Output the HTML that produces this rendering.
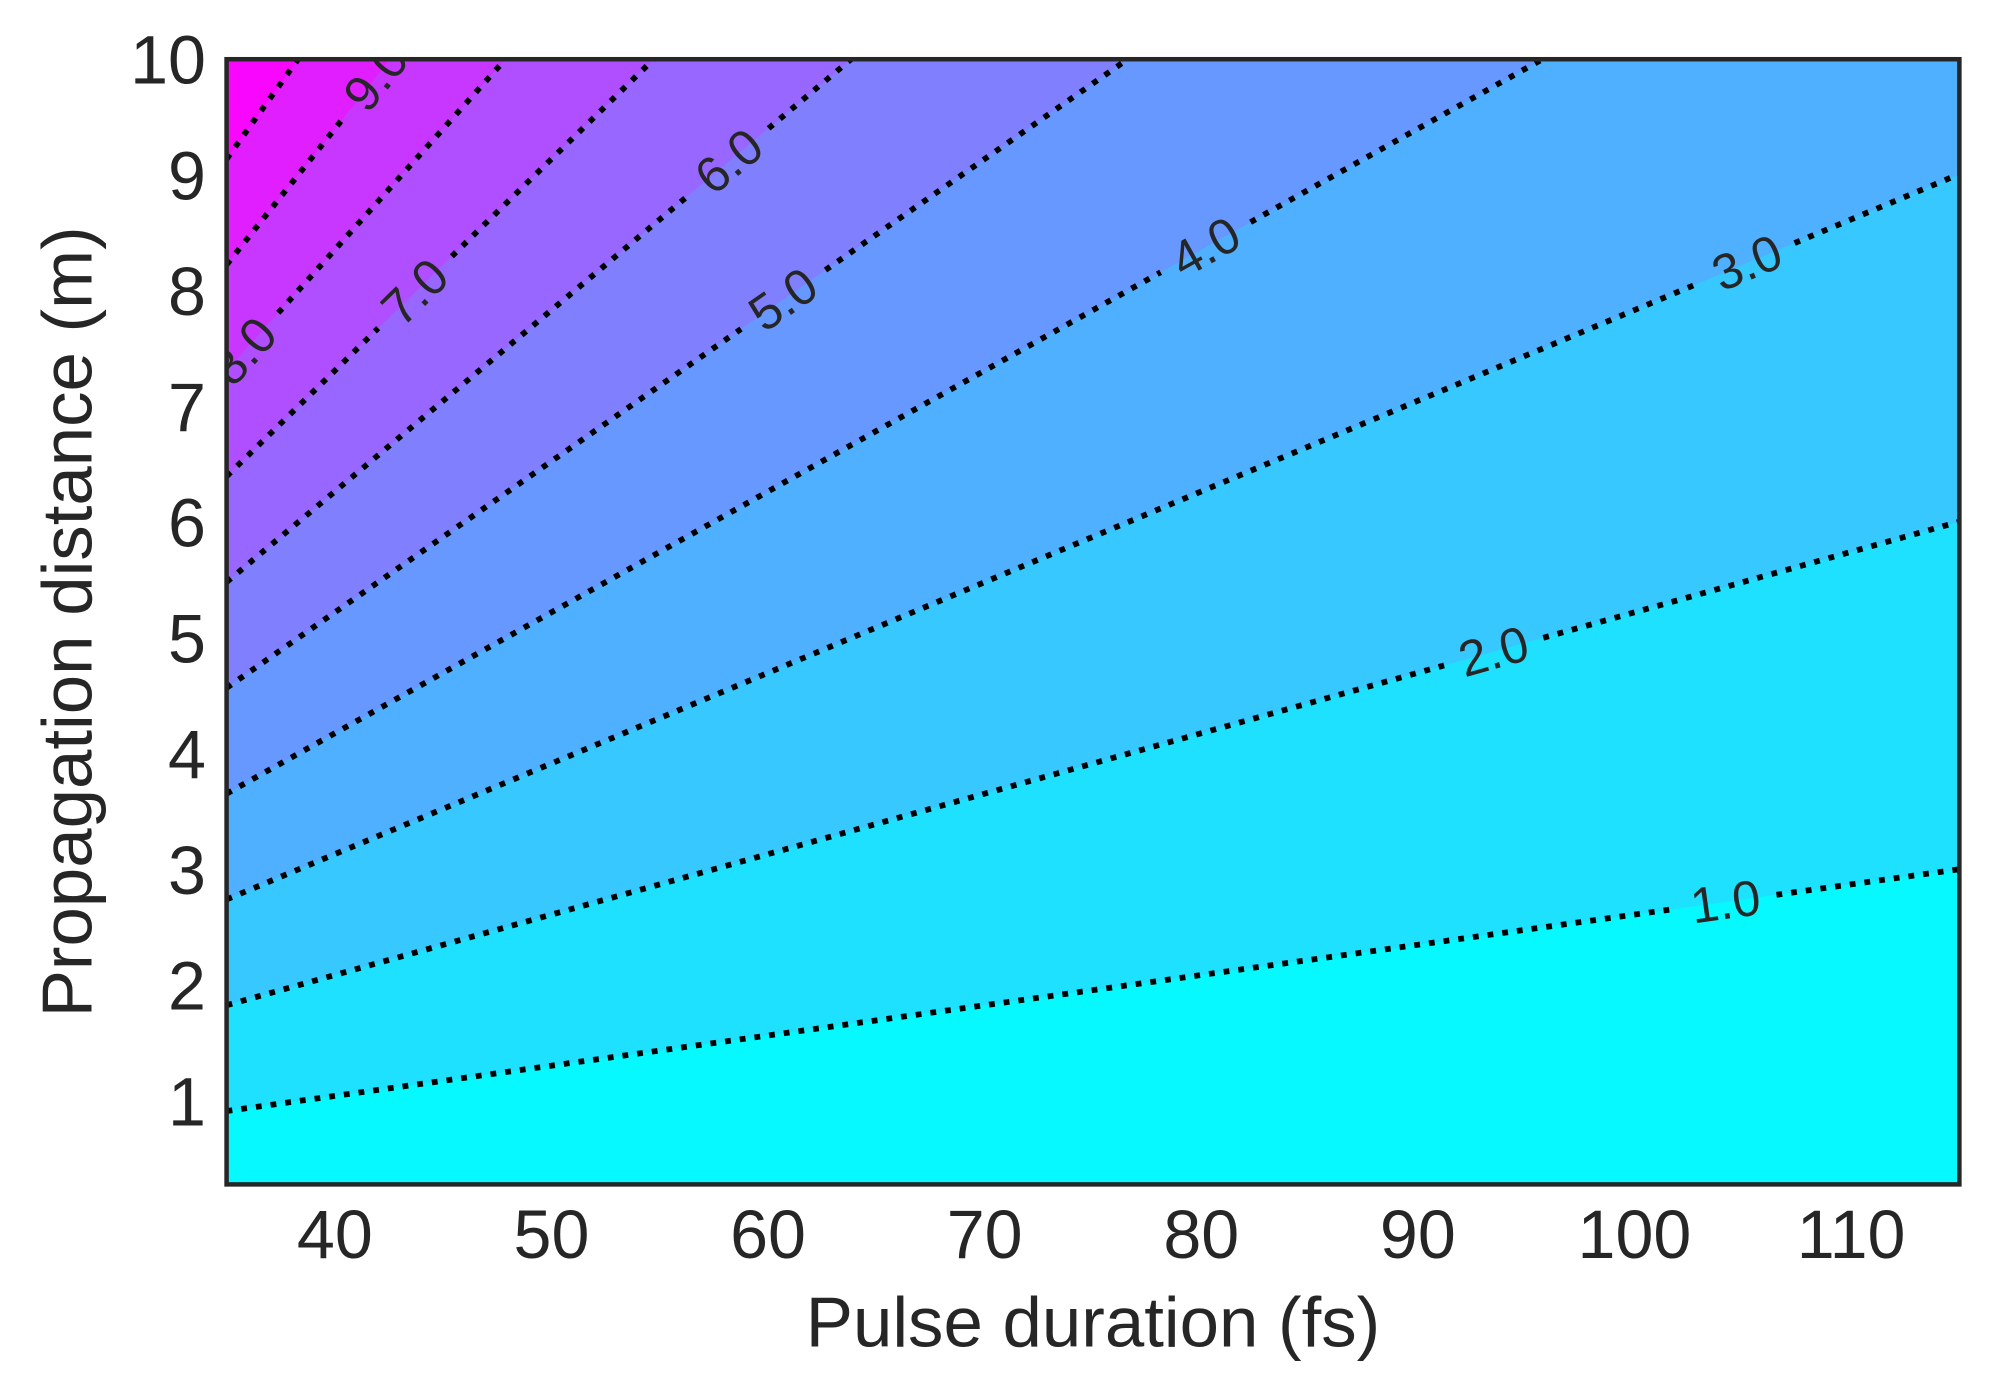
<!DOCTYPE html>
<html><head><meta charset="utf-8"><style>
html,body{margin:0;padding:0;background:#fff;}
svg{display:block;}
text{font-family:"Liberation Sans",sans-serif;fill:#262626;}
</style></head><body>
<svg id="chart" width="1998" height="1373" viewBox="0 0 1552 1066.5" preserveAspectRatio="none" xmlns="http://www.w3.org/2000/svg">
<defs><clipPath id="plotclip"><rect x="176" y="46" width="1346" height="874"/></clipPath></defs>
<g id="bands" clip-path="url(#plotclip)"></g>
<g id="lines" clip-path="url(#plotclip)"></g>
<g id="labels" clip-path="url(#plotclip)"></g>
<rect x="176" y="46" width="1346" height="874" fill="none" stroke="#262626" stroke-width="3.5"/>
<g id="xticks"></g>
<g id="yticks"></g>
<text x="849" y="1046" font-size="55" text-anchor="middle">Pulse duration (fs)</text>
<text transform="translate(71,483) rotate(-90)" font-size="55" text-anchor="middle">Propagation distance (m)</text>
</svg>
<script>
const levels=[1,2,3,4,5,6,7,8,9,10];
const bandLevels=[0,1,2,3,4,5,6,7,8,9,10];
const labelX=[104.2,93.5,105.2,80.2,60.7,58.2,43.7,35.8,41.9,0];
const labelText=["1.0","2.0","3.0","4.0","5.0","6.0","7.0","8.0","9.0",""];
const xTicks=[40,50,60,70,80,90,100,110];
const yTicks=[1,2,3,4,5,6,7,8,9,10];
const C=38.3;
const X0=35,X1=115,Y0=0.28,Y1=10;
const PX0=176,PX1=1522,PY0=920,PY1=46;
function sx(x){return PX0+(x-X0)/(X1-X0)*(PX1-PX0);}
function sy(y){return PY0-(y-Y0)/(Y1-Y0)*(PY0-PY1);}
function lineY(k,x){return k*x/C;}
const NS="http://www.w3.org/2000/svg";
function mk(t,a){const e=document.createElementNS(NS,t);for(const k in a)e.setAttribute(k,a[k]);return e;}
function cool(t){const r=Math.round(255*t),g=Math.round(255*(1-t));return `rgb(${r},${g},255)`;}
const bands=document.getElementById('bands');
bandLevels.forEach((k,i)=>{
  const t=(i+0.25)/(bandLevels.length-0.5);
  const pts=[[sx(X0),sy(lineY(k,X0))],[sx(X1),sy(lineY(k,X1))],[sx(X1)+50,sy(Y1)-50],[sx(X0)-50,sy(Y1)-50]];
  const p=mk('polygon',{points:pts.map(q=>q.join(',')).join(' '),fill:cool(Math.min(1,t))});
  
  
  bands.appendChild(p);
});
const lines=document.getElementById('lines');
const labs=document.getElementById('labels');
levels.forEach((k,i)=>{
  const ax=sx(X0),ay=sy(lineY(k,X0)),bx=sx(X1),by=sy(lineY(k,X1));
  const dx=bx-ax,dy=by-ay,L=Math.hypot(dx,dy),ux=dx/L,uy=dy/L;
  let segs=[[ax,ay,bx,by]];
  if(labelText[i]){
    const lx=sx(labelX[i]),ly=sy(lineY(k,labelX[i])),g=40;
    segs=[[ax,ay,lx-ux*g,ly-uy*g],[lx+ux*g,ly+uy*g,bx,by]];
    const ang=Math.atan2(dy,dx)*180/Math.PI;
    const t=mk('text',{x:0,y:0,'font-size':39,'text-anchor':'middle','dominant-baseline':'central',fill:'#111',transform:`translate(${lx},${ly}) rotate(${ang})`});
    t.textContent=labelText[i];
    
    
    labs.appendChild(t);
  }
  segs.forEach((s,j)=>{
    const l=mk('line',{x1:s[0],y1:s[1],x2:s[2],y2:s[3],stroke:'#000','stroke-width':4.5,'stroke-dasharray':'4.5 7'});
    
    
    lines.appendChild(l);
  });
});
const xt=document.getElementById('xticks');
xTicks.forEach(v=>{const t=mk('text',{x:sx(v),y:977,'font-size':53,'text-anchor':'middle'});t.textContent=v;


xt.appendChild(t);});
const yt=document.getElementById('yticks');
yTicks.forEach(v=>{const t=mk('text',{x:160,y:sy(v)+19,'font-size':53,'text-anchor':'end'});t.textContent=v;


yt.appendChild(t);});
</script>
</body></html>
